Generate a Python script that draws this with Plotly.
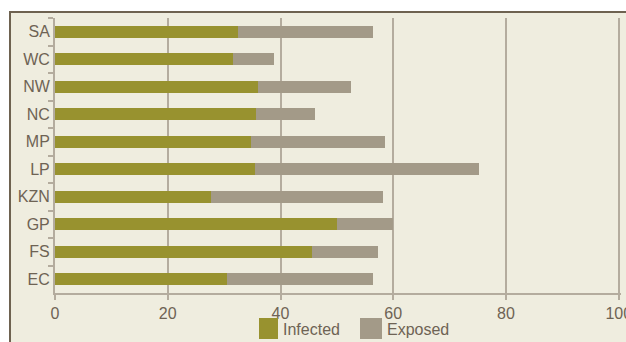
import plotly.graph_objects as go

# Data (top to bottom as displayed)
categories = ["SA", "WC", "NW", "NC", "MP", "LP", "KZN", "GP", "FS", "EC"]
infected = [32.4, 31.6, 36.0, 35.6, 34.8, 35.5, 27.7, 50.0, 45.5, 30.5]
exposed = [24.0, 7.2, 16.5, 10.5, 23.7, 39.7, 30.5, 10.0, 11.8, 25.9]
series_names = ["Infected", "Exposed"]
x_ticks = [0, 20, 40, 60, 80, 100]

# Styles
C_INF = "#98922F"
C_EXP = "#A39A88"
C_BG = "#EFEDDF"
C_TEXT = "#6E6354"
C_GRID = "#B4AC9E"
C_BORDER = "#6E6250"
FONT = "Liberation Sans"

fig = go.Figure()
fig.add_trace(go.Bar(y=categories, x=infected, orientation="h", name=series_names[0],
                     marker=dict(color=C_INF, line=dict(width=0)), showlegend=False))
fig.add_trace(go.Bar(y=categories, x=exposed, orientation="h", name=series_names[1],
                     marker=dict(color=C_EXP, line=dict(width=0)), showlegend=False))

L, R, T, B = 55, 5, 18, 49
W, H = 626, 342
pw, ph = W - L - R, H - T - B


def px(xp):
    return (xp - L) / pw


def py(yp):
    return (H - B - yp) / ph


shapes = [
    # chart box background with border (top and left visible)
    dict(type="rect", xref="paper", yref="paper", x0=px(10), x1=px(640), y0=py(360), y1=py(12),
         fillcolor=C_BG, line=dict(color=C_BORDER, width=2), layer="below"),
    # legend swatches
    dict(type="rect", xref="paper", yref="paper", x0=px(259), x1=px(278), y0=py(339), y1=py(318),
         fillcolor=C_INF, line=dict(width=0)),
    dict(type="rect", xref="paper", yref="paper", x0=px(360), x1=px(382), y0=py(339), y1=py(318),
         fillcolor=C_EXP, line=dict(width=0)),
]
annotations = [
    dict(xref="paper", yref="paper", x=px(281), y=py(329), text=series_names[0], showarrow=False,
         xanchor="left", yanchor="middle", font=dict(size=16, color=C_TEXT, family=FONT)),
    dict(xref="paper", yref="paper", x=px(385), y=py(329), text=series_names[1], showarrow=False,
         xanchor="left", yanchor="middle", font=dict(size=16, color=C_TEXT, family=FONT)),
]

fig.update_layout(
    width=W, height=H,
    margin=dict(l=L, r=R, t=T, b=B, pad=0, autoexpand=False),
    paper_bgcolor="white",
    plot_bgcolor="rgba(0,0,0,0)",
    barmode="stack",
    bargap=0.56,
    font=dict(family=FONT, size=16, color=C_TEXT),
    showlegend=False,
    shapes=shapes,
    annotations=annotations,
    xaxis=dict(range=[0, 100.4], tickvals=x_ticks, showgrid=True, gridcolor=C_GRID, gridwidth=1.5,
               zeroline=False, showline=True, linecolor=C_GRID, linewidth=2,
               ticks="outside", ticklen=5, tickcolor=C_GRID, tickwidth=2,
               ticklabeloverflow="allow", automargin=False,
               tickfont=dict(size=16, color=C_TEXT, family=FONT), fixedrange=True),
    yaxis=dict(autorange="reversed", type="category", showgrid=False, zeroline=False,
               showline=True, linecolor=C_GRID, linewidth=2, automargin=False,
               ticks="outside", tickson="boundaries", ticklen=5, tickcolor=C_GRID, tickwidth=2,
               tickfont=dict(size=16, color=C_TEXT, family=FONT), fixedrange=True),
)

fig.write_html("out.html")
